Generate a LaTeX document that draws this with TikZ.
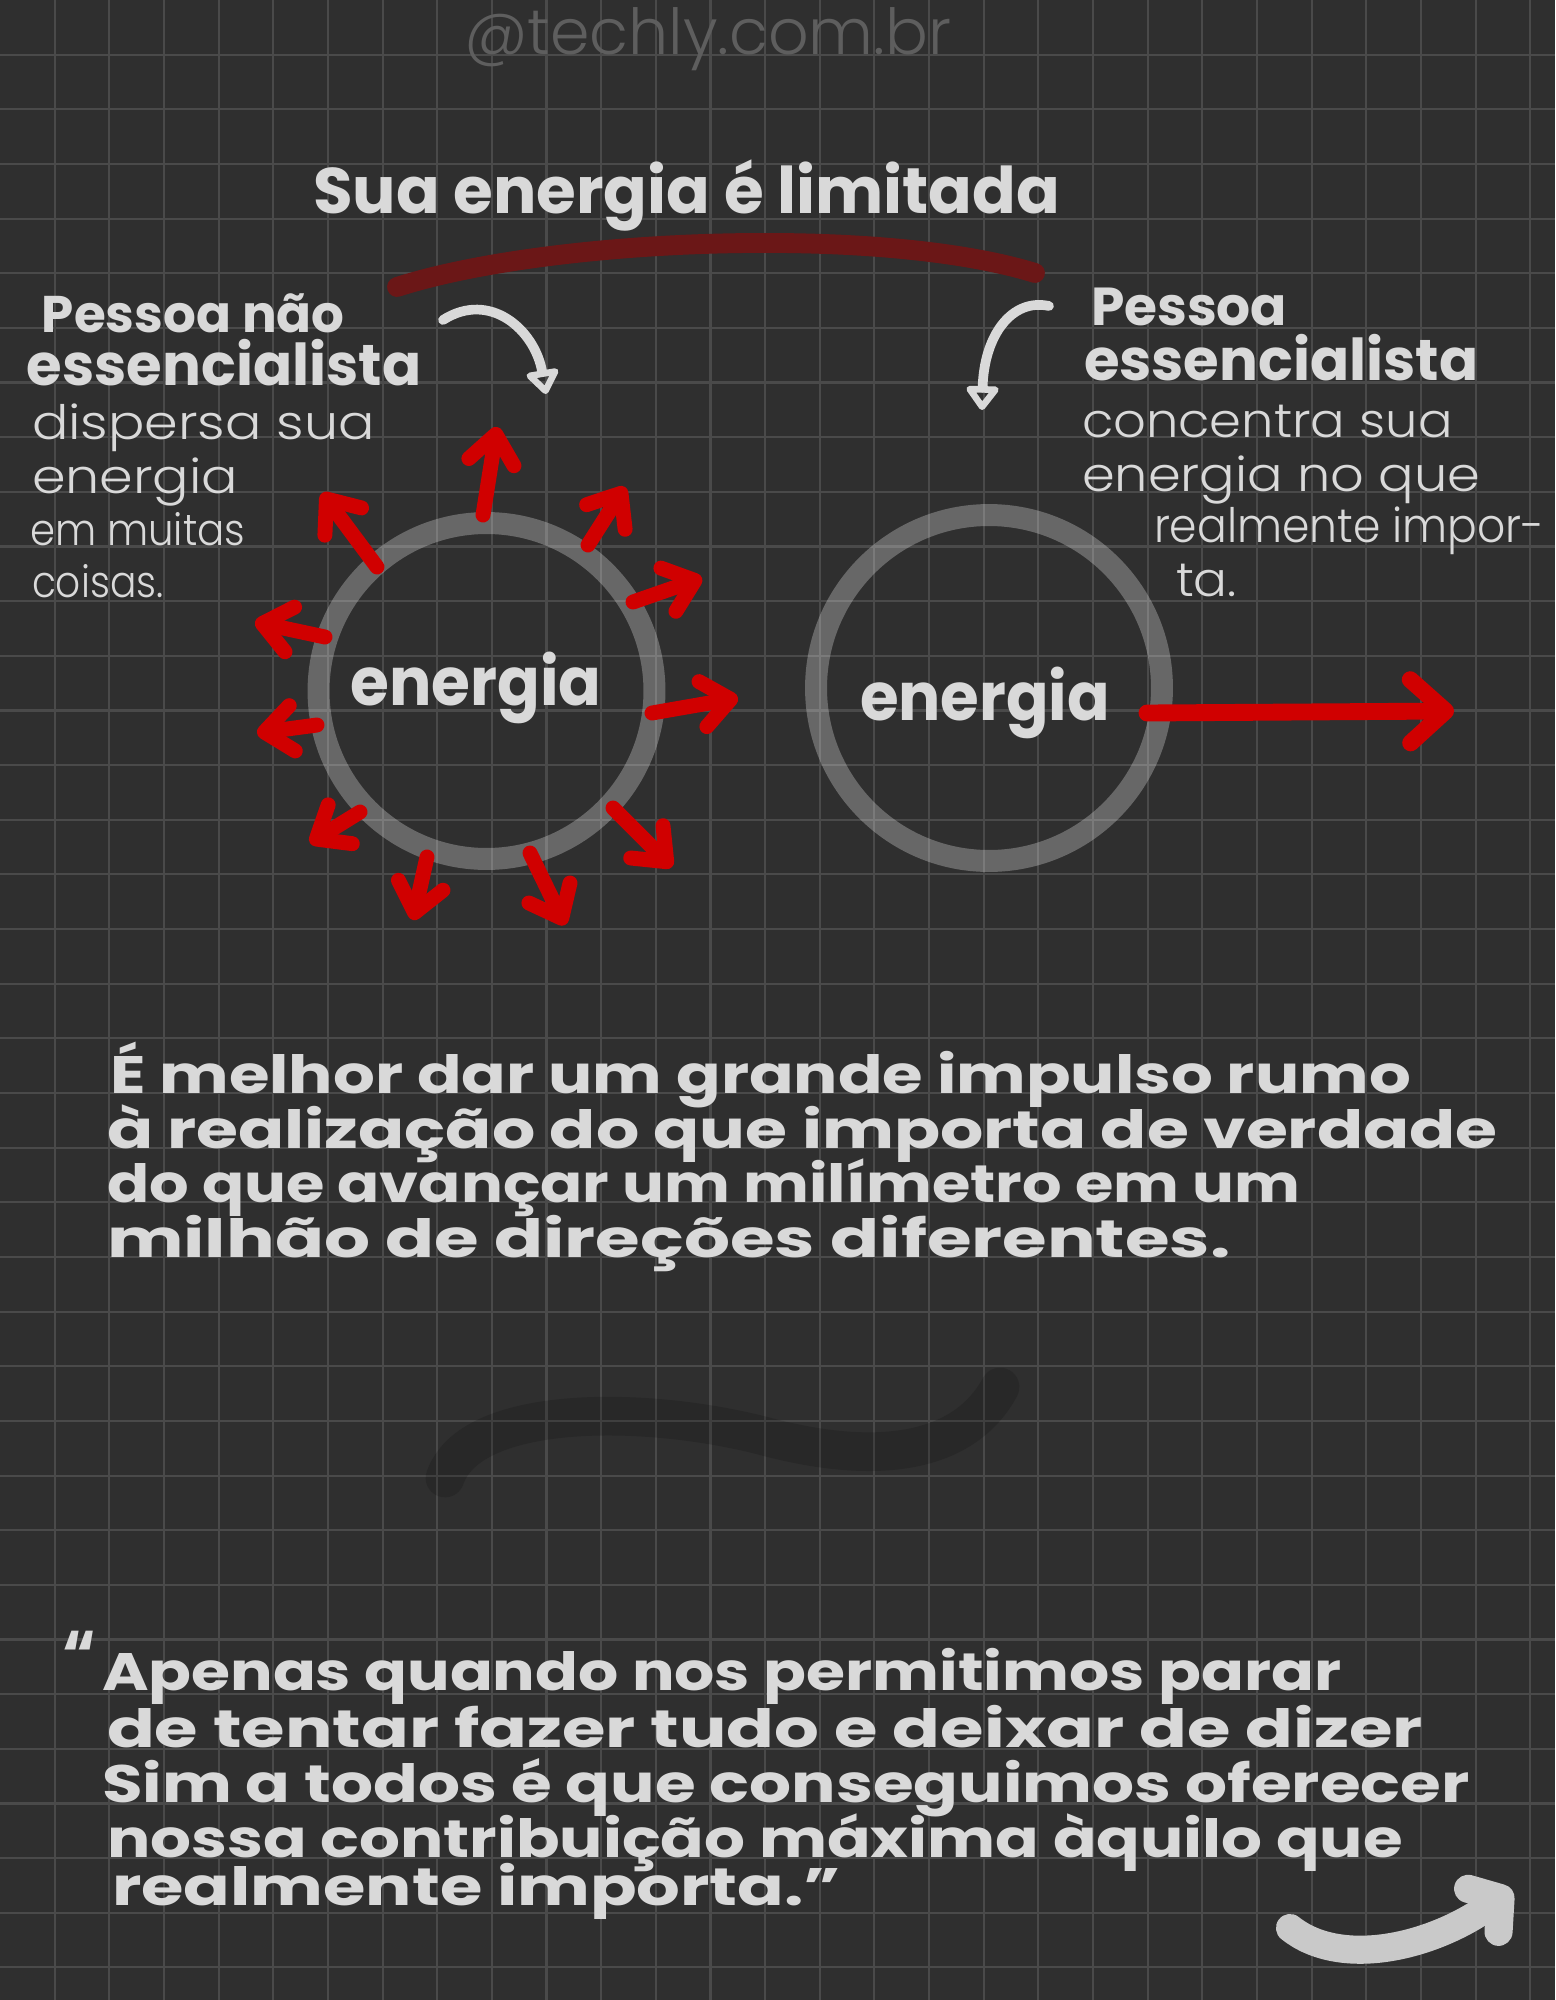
\documentclass[tikz,border=0pt]{standalone}
\usepackage{fontspec}
\setmainfont{Poppins}
\newfontfamily\thinfont{Poppins Light}
\usetikzlibrary{arrows.meta}
\definecolor{bg}{HTML}{2F2F2F}
\definecolor{gridc}{HTML}{4A4A4A}
\definecolor{ink}{HTML}{D9D9D9}
\definecolor{redc}{HTML}{D00000}
\definecolor{darkred}{HTML}{6B1717}
\definecolor{wmc}{HTML}{5E5E5E}
\definecolor{arrowgray}{HTML}{C9C9C9}
\newdimen\pxu \pxu=0.5669pt
\newcommand{\fitw}[2]{\resizebox{#1\pxu}{!}{#2}}
\newcommand{\bfw}[2]{\fitw{#1}{\bfseries\fontsize{30pt}{36pt}\selectfont #2}}
\newcommand{\thw}[2]{\fitw{#1}{\thinfont\fontsize{30pt}{36pt}\selectfont #2}}
% fixed height, stretched to width
\newcommand{\pbw}[3]{\resizebox{#1\pxu}{\height}{\bfseries\fontsize{#2}{#2}\selectfont #3}}
\newcommand{\ptw}[3]{\resizebox{#1\pxu}{\height}{\thinfont\fontsize{#2}{#2}\selectfont #3}}
\tikzset{
  txt/.style={anchor=base west, inner sep=0pt, outer sep=0pt, text=ink},
  gridline/.style={draw=gridc, line width=1.2pt},
  ring/.style={circle, draw=white, draw opacity=0.27, line width=12.5pt, inner sep=0pt},
  redarrow/.style={draw=redc, line width=8.5pt, line cap=round, -{Straight Barb[length=16pt,width=26pt,round]}},
  bigred/.style={draw=redc, line width=9.6pt, line cap=round, -{Straight Barb[length=20pt,width=36pt,round]}},
  curlarrow/.style={draw=ink, line width=5.5pt, line cap=round, -{Triangle[open,length=15pt,width=21pt,round]}},
}
\begin{document}
\begin{tikzpicture}[x=0.02cm, y=-0.02cm]
\useasboundingbox (0,0) rectangle (1555,2000);
\fill[bg] (0,0) rectangle (1555,2000);
% grid
\foreach \k in {1,...,28} \draw[gridline] (\k*54.65,0) -- (\k*54.65,2000);
\foreach \k in {1,...,36} \draw[gridline] (0,\k*54.65) -- (1555,\k*54.65);

% watermark
\node[txt, text=wmc] (wm) at (464,55) {\thw{489}{@techly.com.br}};

% title and underline
\node[txt] (title) at (313,214) {\bfw{750}{Sua energia é limitada}};
\coordinate (ul1) at (397,287);
\coordinate (ul2) at (1035,273);
\draw[darkred, line width=11.3pt, line cap=round] (ul1) .. controls (550,238) and (880,225) .. (ul2);

% left text block
\node[txt] (lp1) at (42,333) {\bfw{304}{Pessoa não}};
\node[txt] (lp2) at (27,385) {\bfw{396}{essencialista}};
\node[txt] (lp3) at (32,439) {\ptw{344}{27pt}{dispersa sua}};
\node[txt] (lp4) at (32,493) {\ptw{207}{27pt}{energia}};
\node[txt] (lp5) at (30,545) {\ptw{216}{25pt}{em muitas}};
\node[txt] (lp6) at (32,597) {\ptw{132}{25pt}{coisas.}};

% right text block
\node[txt] (rp1) at (1091,326) {\bfw{197}{Pessoa}};
\node[txt] (rp2) at (1084,380) {\bfw{396}{essencialista}};
\node[txt] (rp3) at (1082,437) {\ptw{372}{27pt}{concentra sua}};
\node[txt] (rp4) at (1082,491) {\ptw{400}{27pt}{energia no que}};
\node[txt] (rp5) at (1154,542) {\ptw{392}{27pt}{realmente impor-}};
\node[txt] (rp6) at (1176,596) {\ptw{61}{27pt}{ta.}};

% curly arrows
\coordinate (ca1s) at (443,320);
\coordinate (ca1e) at (546,394);
\draw[curlarrow] (ca1s) .. controls (490,290) and (535,330) .. (ca1e);
\coordinate (ca2s) at (1049,306);
\coordinate (ca2e) at (982,410);
\draw[curlarrow] (ca2s) .. controls (1012,298) and (984,335) .. (ca2e);

% circles
\node[ring, minimum size=6.72cm] (c1) at (486.5,691) {};
\node[ring, minimum size=6.92cm] (c2) at (989,688) {};
\node[txt, anchor=base] (t1) at (476,705) {\pbw{252}{38pt}{energia}};
\node[txt, anchor=base] (t2) at (985,720) {\pbw{251}{38pt}{energia}};

% scattered red arrows
\foreach \i/\sx/\sy/\ex/\ey in {
  1/483/515/497/427, 2/588/545/625/487, 3/633/602/702/578, 4/652/713/738/698,
  5/613/808/672/867, 6/530/853/565/925, 7/427/857/413/920, 8/360/812/310/843,
  9/317/725/257/733, 10/325/637/255/622, 11/377/567/322/493}{
  \coordinate (s\i) at (\sx,\sy);
  \coordinate (e\i) at (\ex,\ey);
  \draw[redarrow] (s\i) -- (e\i);
}
% focused red arrow
\coordinate (fs) at (1147,713);
\coordinate (fe) at (1454,711);
\draw[bigred] (fs) -- (fe);

% middle paragraph
\node[txt] (m1) at (110,1093) {\pbw{1306}{30pt}{É melhor dar um grande impulso rumo}};
\node[txt] (m2) at (107,1148) {\pbw{1396}{30pt}{à realização do que importa de verdade}};
\node[txt] (m3) at (107,1202) {\pbw{1198}{30pt}{do que avançar um milímetro em um}};
\node[txt] (m4) at (107,1257) {\pbw{1128}{30pt}{milhão de direções diferentes.}};

% dark swoosh
\coordinate (sw1) at (445,1478);
\coordinate (sw2) at (760,1435);
\coordinate (sw3) at (1000,1387);
\draw[black, opacity=0.14, line width=22pt, line cap=round]
  (sw1) .. controls (470,1405) and (640,1405) .. (sw2) .. controls (880,1468) and (965,1452) .. (sw3);

% quote
\node[txt] (qm) at (62,1680) {\pbw{34}{40pt}{“}};
\node[txt] (q1) at (102,1690) {\pbw{1244}{30pt}{Apenas quando nos permitimos parar}};
\node[txt] (q2) at (107,1747) {\pbw{1321}{30pt}{de tentar fazer tudo e deixar de dizer}};
\node[txt] (q3) at (102,1802) {\pbw{1373}{30pt}{Sim a todos é que conseguimos oferecer}};
\node[txt] (q4) at (107,1857) {\pbw{1301}{30pt}{nossa contribuição máxima àquilo que}};
\node[txt] (q5) at (112,1905) {\pbw{732}{30pt}{realmente importa.”}};

% bottom-right arrow
\coordinate (ga1) at (1290,1928);
\coordinate (ga2) at (1512,1890);
\draw[draw=arrowgray, line width=16pt, line cap=round, -{Straight Barb[length=12pt,width=30pt,round]}]
  (ga1) .. controls (1340,1968) and (1430,1948) .. (ga2);
\end{tikzpicture}
\end{document}
